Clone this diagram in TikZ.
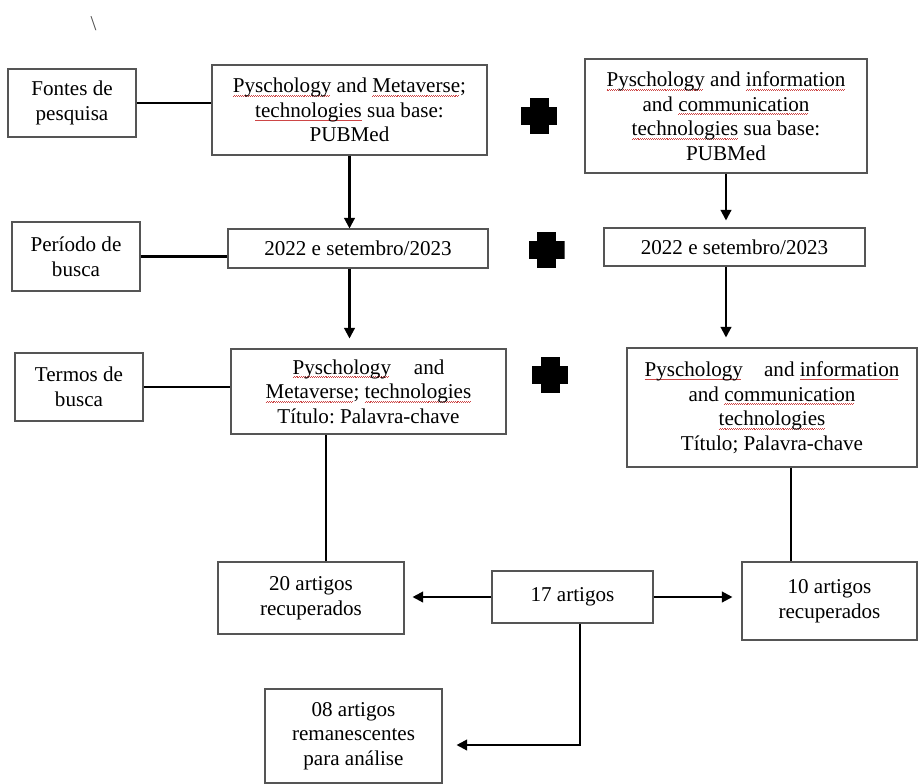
\documentclass[tikz,border=0pt]{standalone}
\usepackage{fontspec}
\setmainfont{Liberation Serif}
\usetikzlibrary{positioning,arrows.meta,calc}
\definecolor{edge}{RGB}{85,85,85}
\definecolor{wave}{RGB}{205,70,70}
\newlength{\lw}
\setlength{\lw}{2.56cm}
\newlength{\lh}
\setlength{\lh}{1.36cm}
\newsavebox{\wordbox}
\newcommand{\spellwave}[1]{\sbox{\wordbox}{#1}%
  \rlap{\textcolor{wave}{\leaders\hbox{\rule[-2.1pt]{.55pt}{.35pt}\rule[-1.7pt]{.55pt}{.35pt}}\hskip\wd\wordbox}}%
  \usebox{\wordbox}}
\frenchspacing
\tikzset{
  lab/.style  ={draw=edge,line width=0.6pt,minimum width=\lw,minimum height=\lh,
                align=center,inner sep=1pt,font=\fontsize{12}{14}\selectfont},
  box/.style  ={draw=edge,line width=0.6pt,align=center,inner sep=1pt,
                font=\fontsize{12}{14}\selectfont},
  link/.style ={line width=1.2pt},
  arr/.style  ={link,-{Triangle[length=0.21cm,width=0.21cm]}},
  plus/.style ={minimum size=0.72cm,inner sep=0pt,
                path picture={
                  \fill[black] ($(path picture bounding box.center)+(-0.19cm,-0.36cm)$) rectangle ++(0.38cm,0.72cm);
                  \fill[black] ($(path picture bounding box.center)+(-0.36cm,-0.18cm)$) rectangle ++(0.72cm,0.36cm);
                }}
}
\begin{document}
\begin{tikzpicture}

\useasboundingbox (0,0) rectangle (18.36,-15.66);

\node[font=\fontsize{12}{14}\selectfont,text=black!70] (bs) at (1.87,-0.47) {\textbackslash};

% rotulos da esquerda
\node[lab] (src) at (1.44,-2.06) {Fontes de\\pesquisa};
\node[lab,minimum height=1.38cm] (per) at (1.52,-5.13) {Período de\\busca};
\node[lab] (ter) at (1.58,-7.74) {Termos de\\busca};

% coluna da esquerda
\node[box,minimum width=5.5cm,minimum height=1.8cm] (lmeta) at (6.99,-2.20)
  {\spellwave{Pyschology} and \spellwave{Metaverse};\\\spellwave{technologies} sua base:\\PUBMed};
\node[box,minimum width=5.2cm,minimum height=0.78cm] (lper) at (7.16,-4.97) {2022 e setembro/2023};
\node[box,minimum width=5.5cm,minimum height=1.7cm] (lterm) at (7.37,-7.83)
  {\spellwave{Pyschology}\hspace{13pt}and\\\spellwave{Metaverse}; \spellwave{technologies}\\Título: Palavra-chave};

% coluna da direita
\node[box,minimum width=5.64cm,minimum height=2.28cm] (rinfo) at (14.52,-2.32)
  {\spellwave{Pyschology} and \spellwave{information}\\and \spellwave{communication}\\\spellwave{technologies} sua base:\\PUBMed};
\node[box,minimum width=5.22cm,minimum height=0.76cm] (rper) at (14.69,-4.94) {2022 e setembro/2023};
\node[box,minimum width=5.8cm,minimum height=2.38cm] (rterm) at (15.44,-8.15)
  {\spellwave{Pyschology}\hspace{12pt}and \spellwave{information}\\and \spellwave{communication}\\\spellwave{technologies}\\Título; Palavra-chave};

% sinais de mais
\node[plus] (p1) at (10.78,-2.32) {};
\node[plus] (p2) at (10.93,-5.00) {};
\node[plus] (p3) at (11.00,-7.50) {};

% resultados
\node[box,minimum width=3.72cm,minimum height=1.44cm] (l20) at (6.22,-11.96) {20 artigos\\recuperados};
\node[box,minimum width=3.22cm,minimum height=1.04cm] (a17) at (11.45,-11.94) {17 artigos};
\node[box,minimum width=3.5cm,minimum height=1.56cm] (r10) at (16.59,-12.02) {10 artigos\\recuperados};
\node[box,minimum width=3.54cm,minimum height=1.88cm] (r08) at (7.07,-14.72) {08 artigos\\remanescentes\\para análise};

% ligacoes
\draw[link] (src.east) -- (src.east -| lmeta.west);
\draw[link] (per.east) -- (per.east -| lper.west);
\draw[link] (ter.east) -- (ter.east -| lterm.west);

\draw[arr] (lmeta.south) -- (lmeta.south |- lper.north);
\draw[arr,shorten >=0.2cm] (lper.south -| lmeta.south) -- (lterm.north -| lmeta.south);
\draw[arr,shorten >=0.14cm] (rinfo.south) -- (rinfo.south |- rper.north);
\draw[arr,shorten >=0.2cm] (rper.south -| rinfo.south) -- (rterm.north -| rinfo.south);

\coordinate (lx) at ($(l20.north)+(0.3cm,0)$);
\coordinate (rx) at ($(rterm.south)+(0.38cm,0)$);
\draw[link] (lx) -- (lx |- lterm.south);
\draw[link] (rx) -- (rx |- r10.north);

\draw[arr,shorten >=0.16cm] (a17.west) -- (a17.west -| l20.east);
\draw[arr,shorten >=0.18cm] (a17.east) -- (a17.east -| r10.west);

\coordinate (dx) at ($(a17.south)+(0.15cm,0)$);
\coordinate (ex) at ($(r08.east)+(0.28cm,-0.18cm)$);
\draw[arr] (dx) |- (ex);

\end{tikzpicture}
\end{document}
